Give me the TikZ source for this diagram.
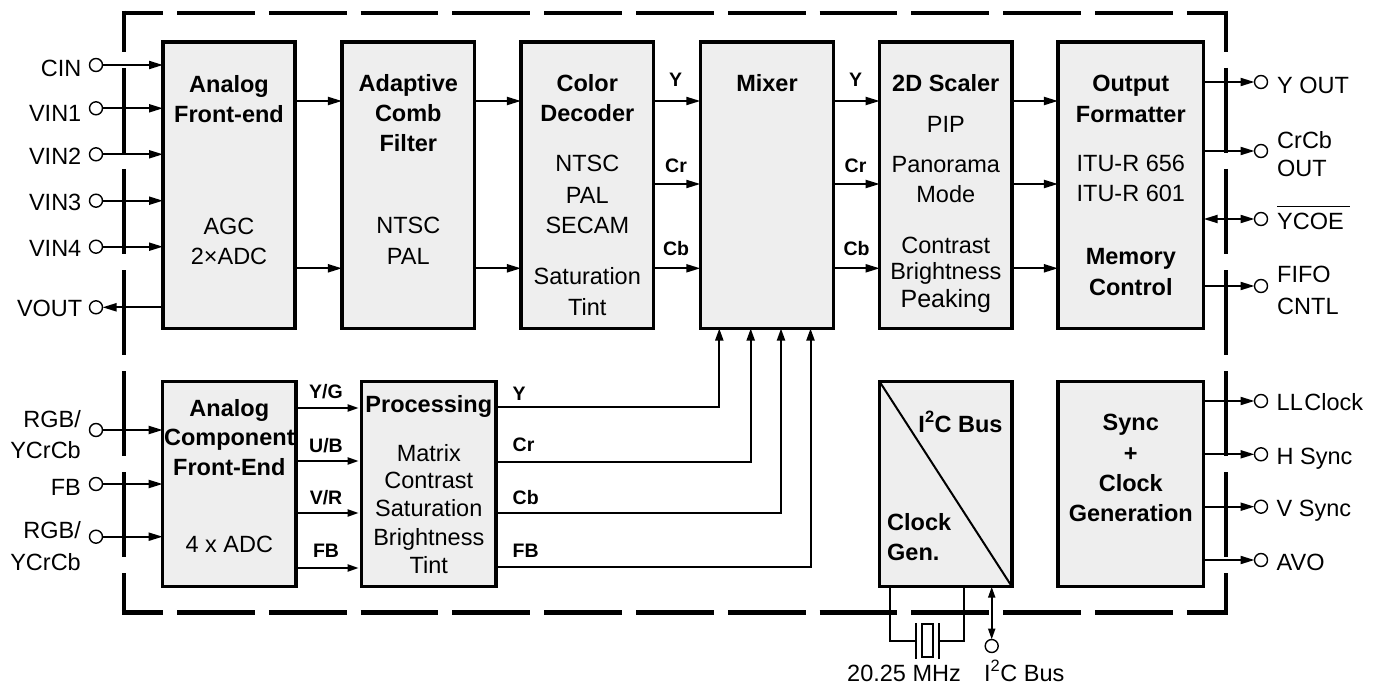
\documentclass[tikz,border=0pt]{standalone}
\usepackage{fontspec}
\setmainfont{Liberation Sans}
\usetikzlibrary{arrows.meta}
\definecolor{boxgray}{HTML}{EEEEEE}
\begin{document}
\begin{tikzpicture}[x=1pt,y=-1pt,
  blk/.style={draw, line width=3.2pt, fill=boxgray, inner sep=0pt, outer sep=0pt},
  txt/.style={inner sep=0pt, anchor=base, font=\fontsize{23.5}{28}\selectfont},
  btxt/.style={inner sep=0pt, anchor=base, font=\fontsize{23.5}{28}\selectfont\bfseries},
  sig/.style={inner sep=0pt, anchor=base, font=\fontsize{19.5}{24}\selectfont\bfseries},
  pin/.style={circle, draw, line width=1.4pt, fill=white, minimum size=13pt, inner sep=0pt, outer sep=0pt},
  wire/.style={line width=2pt},
  arr/.style={wire, -{Triangle[length=14pt,width=8pt]}},
  darr/.style={wire, {Triangle[length=14pt,width=8pt]}-{Triangle[length=14pt,width=8pt]}},
  sarr/.style={wire, -{Triangle[length=11pt,width=7pt]}},
  marr/.style={wire, -{Triangle[length=12pt,width=8pt]}},
  dsarr/.style={wire, {Triangle[length=11pt,width=7pt]}-{Triangle[length=11pt,width=7pt]}},
  border/.style={line width=4.5pt},
]
\useasboundingbox (0,0) rectangle (1379,687);

% ---------- dashed chip border ----------
\draw[border, dash pattern=on 77.8pt off 14pt, dash phase=36.55pt] (121.75,13) -- (1228.05,13);
\draw[border, dash pattern=on 77.8pt off 14pt, dash phase=36.55pt] (121.75,612.5) -- (1228.05,612.5);
\draw[border, dash pattern=on 85pt off 16pt, dash phase=43.75pt] (124,10.75) -- (124,614.75);
\draw[border, dash pattern=on 85pt off 16pt, dash phase=43.75pt] (1225.8,10.75) -- (1225.8,614.75);

% ---------- row coordinates ----------
\coordinate (rY) at (0,101);
\coordinate (rCr) at (0,184);
\coordinate (rCb) at (0,268.3);

% ---------- top row blocks ----------
\node[blk, minimum width=132pt, minimum height=286.5pt] (afe) at (229,185.25) {};
\node[blk, minimum width=132.7pt, minimum height=286.5pt] (acf) at (408.3,185.25) {};
\node[blk, minimum width=132.7pt, minimum height=286.5pt] (cd) at (587.3,185.25) {};
\node[blk, minimum width=133.4pt, minimum height=286.5pt] (mixer) at (767,185.25) {};
\node[blk, minimum width=132.3pt, minimum height=286.5pt] (scaler) at (945.8,185.25) {};
\node[blk, minimum width=145.7pt, minimum height=286.5pt] (of) at (1130.8,185.25) {};

% ---------- bottom row blocks ----------
\node[blk, minimum width=133.3pt, minimum height=205pt] (acfe) at (229.3,484.2) {};
\node[blk, minimum width=134.3pt, minimum height=205pt] (proc) at (428.8,484.2) {};
\node[blk, minimum width=132.3pt, minimum height=205pt] (clk) at (945.8,484.2) {};
\node[blk, minimum width=145.7pt, minimum height=205pt] (sync) at (1130.8,484.2) {};
\draw[wire] (clk.north west) -- (clk.south east);

% ---------- block texts ----------
\node[btxt] (afe1) at (229,92.6) {Analog};
\node[btxt] (afe2) at (229,122.6) {Front-end};
\node[txt] (afe3) at (229,235) {AGC};
\node[txt] (afe4) at (229,265) {2×ADC};

\node[btxt] (acf1) at (408.3,92) {Adaptive};
\node[btxt] (acf2) at (408.3,122) {Comb};
\node[btxt] (acf3) at (408.3,152) {Filter};
\node[txt] (acf4) at (408.3,233.4) {NTSC};
\node[txt] (acf5) at (408.3,265) {PAL};

\node[btxt] (cd1) at (587.3,92) {Color};
\node[btxt] (cd2) at (587.3,122) {Decoder};
\node[txt] (cd3) at (587.3,171.4) {NTSC};
\node[txt] (cd4) at (587.3,203.4) {PAL};
\node[txt] (cd5) at (587.3,233.4) {SECAM};
\node[txt] (cd6) at (587.3,284.2) {Saturation};
\node[txt] (cd7) at (587.3,315) {Tint};

\node[btxt] (mx1) at (767,92) {Mixer};

\node[btxt] (sc1) at (945.8,92) {2D Scaler};
\node[txt] (sc2) at (945.8,132.6) {PIP};
\node[txt] (sc3) at (945.8,172.6) {Panorama};
\node[txt] (sc4) at (945.8,202.6) {Mode};
\node[txt] (sc5) at (945.8,253.2) {Contrast};
\node[txt] (sc6) at (945.8,279.7) {Brightness};
\node[txt, font=\fontsize{25}{30}\selectfont] (sc7) at (945.8,307.3) {Peaking};

\node[btxt] (of1) at (1130.8,92) {Output};
\node[btxt] (of2) at (1130.8,122.6) {Formatter};
\node[txt] (of3) at (1130.8,171.7) {ITU-R 656};
\node[txt] (of4) at (1130.8,201.7) {ITU-R 601};
\node[btxt] (of5) at (1130.8,265) {Memory};
\node[btxt] (of6) at (1130.8,295) {Control};

\node[btxt] (ac1) at (229.3,416.4) {Analog};
\node[btxt] (ac2) at (229.3,445) {Component};
\node[btxt] (ac3) at (229.3,475) {Front-End};
\node[txt] (ac4) at (229.3,552.7) {4 x ADC};

\node[btxt] (pr1) at (428.8,412.4) {Processing};
\node[txt] (pr2) at (428.8,461.7) {Matrix};
\node[txt] (pr3) at (428.8,488.4) {Contrast};
\node[txt] (pr4) at (428.8,516.7) {Saturation};
\node[txt] (pr5) at (428.8,545) {Brightness};
\node[txt] (pr6) at (428.8,573.4) {Tint};

\node[btxt] (ck1) at (960.5,432) {I\textsuperscript{2}C Bus};
\node[btxt, anchor=base west] (ck2) at (887,530) {Clock};
\node[btxt, anchor=base west] (ck3) at (887,560) {Gen.};

\node[btxt] (sy1) at (1130.8,430) {Sync};
\node[btxt] (sy2) at (1130.8,461.4) {+};
\node[btxt] (sy3) at (1130.8,491.7) {Clock};
\node[btxt] (sy4) at (1130.8,521.7) {Generation};

% ---------- left input pins ----------
\node[pin] (cin) at (96,65) {};
\node[pin] (vin1) at (96,108.3) {};
\node[pin] (vin2) at (96,154.3) {};
\node[pin] (vin3) at (96,200.7) {};
\node[pin] (vin4) at (96,246.7) {};
\node[pin] (vout) at (96,307.3) {};
\node[txt, anchor=base east] (cinl) at (81.5,77) {CIN};
\node[txt, anchor=base east] (vin1l) at (81.5,121.5) {VIN1};
\node[txt, anchor=base east] (vin2l) at (81.5,165) {VIN2};
\node[txt, anchor=base east] (vin3l) at (81.5,210.4) {VIN3};
\node[txt, anchor=base east] (vin4l) at (81.5,256.5) {VIN4};
\node[txt, anchor=base east] (voutl) at (82.5,316.6) {VOUT};
\foreach \p in {cin,vin1,vin2,vin3,vin4}
  \draw[arr] (\p) -- (\p -| afe.west);
\draw[arr] (vout -| afe.west) -- (vout);

\node[pin] (rgb1) at (96,430) {};
\node[pin] (fb) at (96,484) {};
\node[pin] (rgb2) at (96,536.7) {};
\node[txt, anchor=base east] (rgb1a) at (81,427.4) {RGB/};
\node[txt, anchor=base east] (rgb1b) at (81,458.4) {YCrCb};
\node[txt, anchor=base east] (fbl) at (81,495.2) {FB};
\node[txt, anchor=base east] (rgb2a) at (81,538.4) {RGB/};
\node[txt, anchor=base east] (rgb2b) at (81,570) {YCrCb};
\foreach \p in {rgb1,fb,rgb2}
  \draw[arr] (\p) -- (\p -| acfe.west);

% ---------- top row connections ----------
\draw[arr] (afe.east |- rY) -- (acf.west |- rY);
\draw[arr] (afe.east |- rCb) -- (acf.west |- rCb);
\draw[arr] (acf.east |- rY) -- (cd.west |- rY);
\draw[arr] (acf.east |- rCb) -- (cd.west |- rCb);
\foreach \r in {rY,rCr,rCb} {
  \draw[arr] (cd.east |- \r) -- (mixer.west |- \r);
  \draw[arr] (mixer.east |- \r) -- (scaler.west |- \r);
  \draw[arr] (scaler.east |- \r) -- (of.west |- \r);
}
\node[sig] (cdy) at (675.5,86.7) {Y};
\node[sig] (cdcr) at (676,173) {Cr};
\node[sig] (cdcb) at (676,255) {Cb};
\node[sig] (mxy) at (855.5,86.7) {Y};
\node[sig] (mxcr) at (855.5,173) {Cr};
\node[sig] (mxcb) at (856.5,255) {Cb};

% ---------- output pins (top) ----------
\node[pin] (yout) at (1261,82) {};
\node[pin] (crcb) at (1261,151) {};
\node[pin] (ycoe) at (1261,219) {};
\node[pin] (fifo) at (1261,286) {};
\draw[arr] (of.east |- yout) -- (yout);
\draw[arr] (of.east |- crcb) -- (crcb);
\draw[darr] (of.east |- ycoe) -- (ycoe);
\draw[arr] (of.east |- fifo) -- (fifo);
\node[txt, anchor=base west] (youtl) at (1277,94) {Y OUT};
\node[txt, anchor=base west] (crcbl1) at (1277,149) {CrCb};
\node[txt, anchor=base west] (crcbl2) at (1277,177) {OUT};
\node[txt, anchor=base west] (ycoel) at (1277,230) {YCOE};
\draw[line width=1.5pt] ([yshift=7pt]ycoel.north west) -- ([yshift=7pt,xshift=6pt]ycoel.north east);
\node[txt, anchor=base west] (fifol1) at (1277,282.5) {FIFO};
\node[txt, anchor=base west] (fifol2) at (1277,314) {CNTL};

% ---------- bottom left connections ----------
\coordinate (b1) at (0,408);
\coordinate (b2) at (0,461);
\coordinate (b3) at (0,513);
\coordinate (b4) at (0,568);
\foreach \r in {b1,b2,b3,b4}
  \draw[sarr] (acfe.east |- \r) -- ([xshift=-3pt]proc.west |- \r);
\node[sig] (yg) at (326,398.7) {Y/G};
\node[sig] (ub) at (326,452) {U/B};
\node[sig] (vr) at (326,504.7) {V/R};
\node[sig] (fbs) at (326,557.3) {FB};

% ---------- processing to mixer ----------
\coordinate (p1) at (719.3,407);
\coordinate (p2) at (750.7,462);
\coordinate (p3) at (781,513);
\coordinate (p4) at (810.5,567);
\foreach \c in {p1,p2,p3,p4}
  \draw[marr] (proc.east |- \c) -| (mixer.south -| \c);
\node[sig, anchor=base west] (py) at (512.5,400.3) {Y};
\node[sig, anchor=base west] (pcr) at (512.5,451.7) {Cr};
\node[sig, anchor=base west] (pcb) at (512.5,504.5) {Cb};
\node[sig, anchor=base west] (pfb) at (512.5,557.8) {FB};

% ---------- sync outputs ----------
\node[pin] (llc) at (1261,401) {};
\node[pin] (hs) at (1261,454.3) {};
\node[pin] (vs) at (1261,506.7) {};
\node[pin] (avo) at (1261,560) {};
\foreach \p in {llc,hs,vs,avo}
  \draw[arr] (sync.east |- \p) -- (\p);
\node[txt, anchor=base west] (llcl) at (1276.5,410.5) {LL\kern1.5pt Clock};
\node[txt, anchor=base west] (hsl) at (1276.5,464) {H Sync};
\node[txt, anchor=base west] (vsl) at (1276.5,516.7) {V Sync};
\node[txt, anchor=base west] (avol) at (1276.5,570) {AVO};

% ---------- crystal ----------
\coordinate (xa) at (889.5,640.5);
\coordinate (xb) at (964.3,640.5);
\coordinate (pl) at (916,640.5);
\coordinate (pr) at (939,640.5);
\draw[wire] (clk.south -| xa) |- (pl);
\draw[wire] (clk.south -| xb) |- (pr);
\draw[wire] (916,623) -- (916,659);
\draw[wire] (939,623) -- (939,659);
\node[draw, line width=2pt, minimum width=11pt, minimum height=33pt, inner sep=0pt] (xtal) at (927.5,640.5) {};
\node[txt, anchor=base west] (mhz) at (847,681) {20.25 MHz};

% ---------- I2C bus pin ----------
\node[pin] (i2c) at (991.7,646) {};
\draw[dsarr] (clk.south -| i2c) -- (i2c);
\node[txt, anchor=base west] (i2cl) at (984,681) {I\textsuperscript{2}C Bus};

\end{tikzpicture}
\end{document}
